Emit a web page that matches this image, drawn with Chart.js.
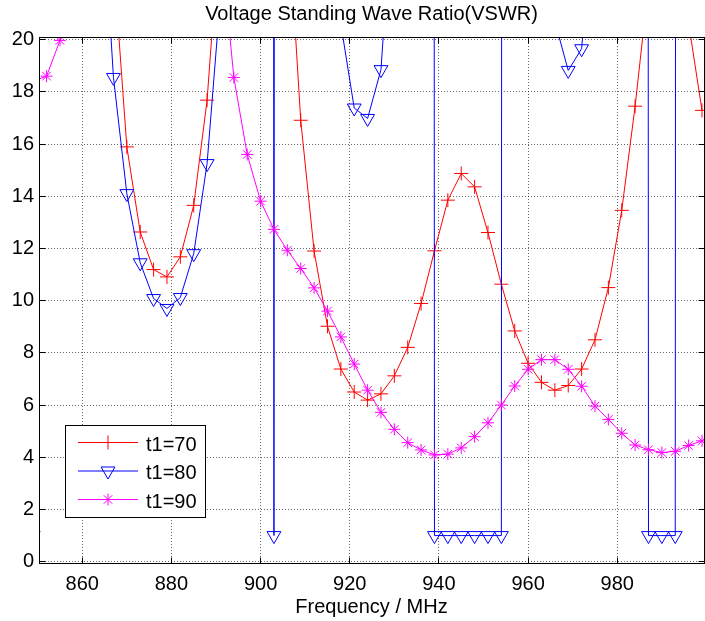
<!DOCTYPE html>
<html><head><meta charset="utf-8">
<script src="https://cdn.jsdelivr.net/npm/chart.js@4/dist/chart.umd.min.js"></script>
<style>html,body{margin:0;padding:0;background:#fff}canvas{display:block}</style>
</head><body>
<canvas id="c" width="705" height="621"></canvas>
<script>
// Frequency samples (MHz)
const freq = [849,852,855,858,861,864,867,870,873,876,879,882,885,888,891,894,897,900,903,906,909,912,915,918,921,924,927,930,933,936,939,942,945,948,951,954,957,960,963,966,969,972,975,978,981,984,987,990,993,996,999];
// VSWR, t1=70 (values above 20 are off the visible range, estimated)
const vswr70 = [60,55,50,45,38,30,23.0,15.89,12.63,11.19,10.91,11.68,13.65,17.68,24.7,33,38,38,33,25.3,16.91,11.9,9.02,7.38,6.5,6.19,6.43,7.12,8.21,9.89,11.91,13.85,14.87,14.36,12.61,10.63,8.84,7.6,6.87,6.57,6.75,7.38,8.5,10.5,13.46,17.45,22.1,25,24,20.63,17.29];
// VSWR, t1=80
const vswr80 = [1,41,60,50,38,26.9,18.55,14.1,11.45,10.08,9.7,10.12,11.8,15.25,21.65,35,60,1000,1,1000,200,60,35,20.6,17.38,16.98,18.85,26.4,60,1000,1,1,1,1,1,1,1000,60,30,20.7,18.82,19.65,25.7,40,80,1000,1,1,1,1000,200];
// VSWR, t1=90
const vswr90 = [18.4,18.6,19.97,23,27,30,32,33,33,32,31,29,27,25.5,23.9,18.55,15.6,13.81,12.73,11.93,11.23,10.49,9.6,8.61,7.57,6.57,5.72,5.07,4.56,4.28,4.09,4.12,4.36,4.79,5.32,6.0,6.73,7.37,7.74,7.74,7.37,6.72,5.96,5.45,4.92,4.47,4.29,4.18,4.23,4.45,4.63];
const seriesLabels = ['t1=70','t1=80','t1=90'];
const xTicks = [860,880,900,920,940,960,980];
const yTicks = [0,2,4,6,8,10,12,14,16,18,20];

const FONT = '"Liberation Sans", Arial, Helvetica, sans-serif';
Chart.defaults.color = '#000';
Chart.defaults.font.family = FONT;

const toPts = vals => freq.map((f, i) => ({x: f, y: vals[i]}));

const framePlugin = {
  id: 'frame',
  afterDraw(chart) {
    const {ctx, chartArea: a, scales: {x, y}} = chart;
    const al = p => Math.round(p - 0.5) + 0.5;
    const L = al(a.left), R = al(a.right), T = al(a.top), B = al(a.bottom);
    ctx.save();
    ctx.strokeStyle = '#000';
    ctx.lineWidth = 1;
    ctx.setLineDash([]);
    ctx.strokeRect(L, T, R - L, B - T);
    ctx.beginPath();
    xTicks.forEach(v => {
      const px = al(x.getPixelForValue(v));
      ctx.moveTo(px, B); ctx.lineTo(px, B - 6);
      ctx.moveTo(px, T); ctx.lineTo(px, T + 6);
    });
    yTicks.forEach(v => {
      const py = al(y.getPixelForValue(v));
      ctx.moveTo(L, py); ctx.lineTo(L + 6, py);
      ctx.moveTo(R, py); ctx.lineTo(R - 6, py);
    });
    ctx.stroke();

    // legend box
    const bx = 65.5, by = 425.5, bw = 140, bh = 92;
    ctx.fillStyle = '#fff';
    ctx.fillRect(bx, by, bw, bh);
    ctx.strokeRect(bx, by, bw, bh);
    const rows = [442.5, 471, 499.5];
    chart.data.datasets.forEach((ds, i) => {
      const ry = rows[i];
      ctx.strokeStyle = ds.borderColor;
      ctx.lineWidth = 1;
      ctx.beginPath();
      ctx.moveTo(78, ry); ctx.lineTo(138, ry);
      ctx.stroke();
      ctx.fillStyle = 'rgba(0,0,0,0)';
      Chart.helpers.drawPoint(ctx, {
        pointStyle: ds.pointStyle, radius: ds.pointRadius,
        rotation: ds.pointRotation || 0, borderWidth: 1
      }, 108, ry);
      ctx.fillStyle = '#000';
      ctx.font = '20px ' + FONT;
      ctx.textAlign = 'left';
      ctx.textBaseline = 'middle';
      ctx.fillText(ds.label, 146, ry + 2.5);
    });
    ctx.restore();
  }
};

new Chart(document.getElementById('c'), {
  type: 'line',
  data: {
    datasets: [
      { label: seriesLabels[0], data: toPts(vswr70), borderColor: '#ff0000', borderWidth: 1,
        pointStyle: 'cross', pointRadius: 7, pointBorderColor: '#ff0000', pointBorderWidth: 1,
        pointBackgroundColor: 'rgba(0,0,0,0)', tension: 0, order: 3, clip: 0 },
      { label: seriesLabels[1], data: toPts(vswr80), borderColor: '#0000ff', borderWidth: 1,
        pointStyle: 'triangle', pointRotation: 180, pointRadius: 8, pointBorderColor: '#0000ff', pointBorderWidth: 1,
        pointBackgroundColor: 'rgba(0,0,0,0)', tension: 0, order: 2, clip: 0 },
      { label: seriesLabels[2], data: toPts(vswr90), borderColor: '#ff00ff', borderWidth: 1,
        pointStyle: 'star', pointRadius: 6, pointBorderColor: '#ff00ff', pointBorderWidth: 1,
        pointBackgroundColor: 'rgba(0,0,0,0)', tension: 0, order: 1, clip: 0 }
    ]
  },
  options: {
    responsive: false,
    animation: false,
    devicePixelRatio: 1,
    events: [],
    layout: { autoPadding: false, padding: { left: 0, right: 1, top: 0, bottom: 0 } },
    plugins: {
      legend: { display: false },
      tooltip: { enabled: false },
      title: { display: true, fullSize: false, text: 'Voltage Standing Wave Ratio(VSWR)', color: '#000',
        font: { size: 20, weight: 'normal', family: FONT }, padding: { top: 2, bottom: 11 } }
    },
    scales: {
      x: {
        type: 'linear', min: 850.3, max: 999.45,
        afterBuildTicks: s => { s.ticks = xTicks.map(v => ({ value: v })); },
        afterFit: s => { s.height = 58; s.paddingLeft = 0; s.paddingRight = 0; },
        ticks: { font: { size: 20 }, color: '#000', padding: 9, maxRotation: 0, autoSkip: false,
          callback: v => String(v) },
        grid: { color: 'rgba(0,0,0,0.6)', lineWidth: 1, drawTicks: false },
        border: { display: false, dash: [1, 2] },
        title: { display: true, text: 'Frequency / MHz', color: '#000', font: { size: 20 },
          padding: { top: 0, bottom: 2 } }
      },
      y: {
        type: 'linear', min: -0.05, max: 20.1,
        afterBuildTicks: s => { s.ticks = yTicks.map(v => ({ value: v })); },
        afterFit: s => { s.width = 39; s.paddingTop = 0; s.paddingBottom = 0; },
        ticks: { font: { size: 20 }, color: '#000', padding: 5, autoSkip: false,
          callback: v => String(v) },
        grid: { color: 'rgba(0,0,0,0.6)', lineWidth: 1, drawTicks: false },
        border: { display: false, dash: [1, 2] }
      }
    }
  },
  plugins: [framePlugin]
});
</script>
</body></html>
